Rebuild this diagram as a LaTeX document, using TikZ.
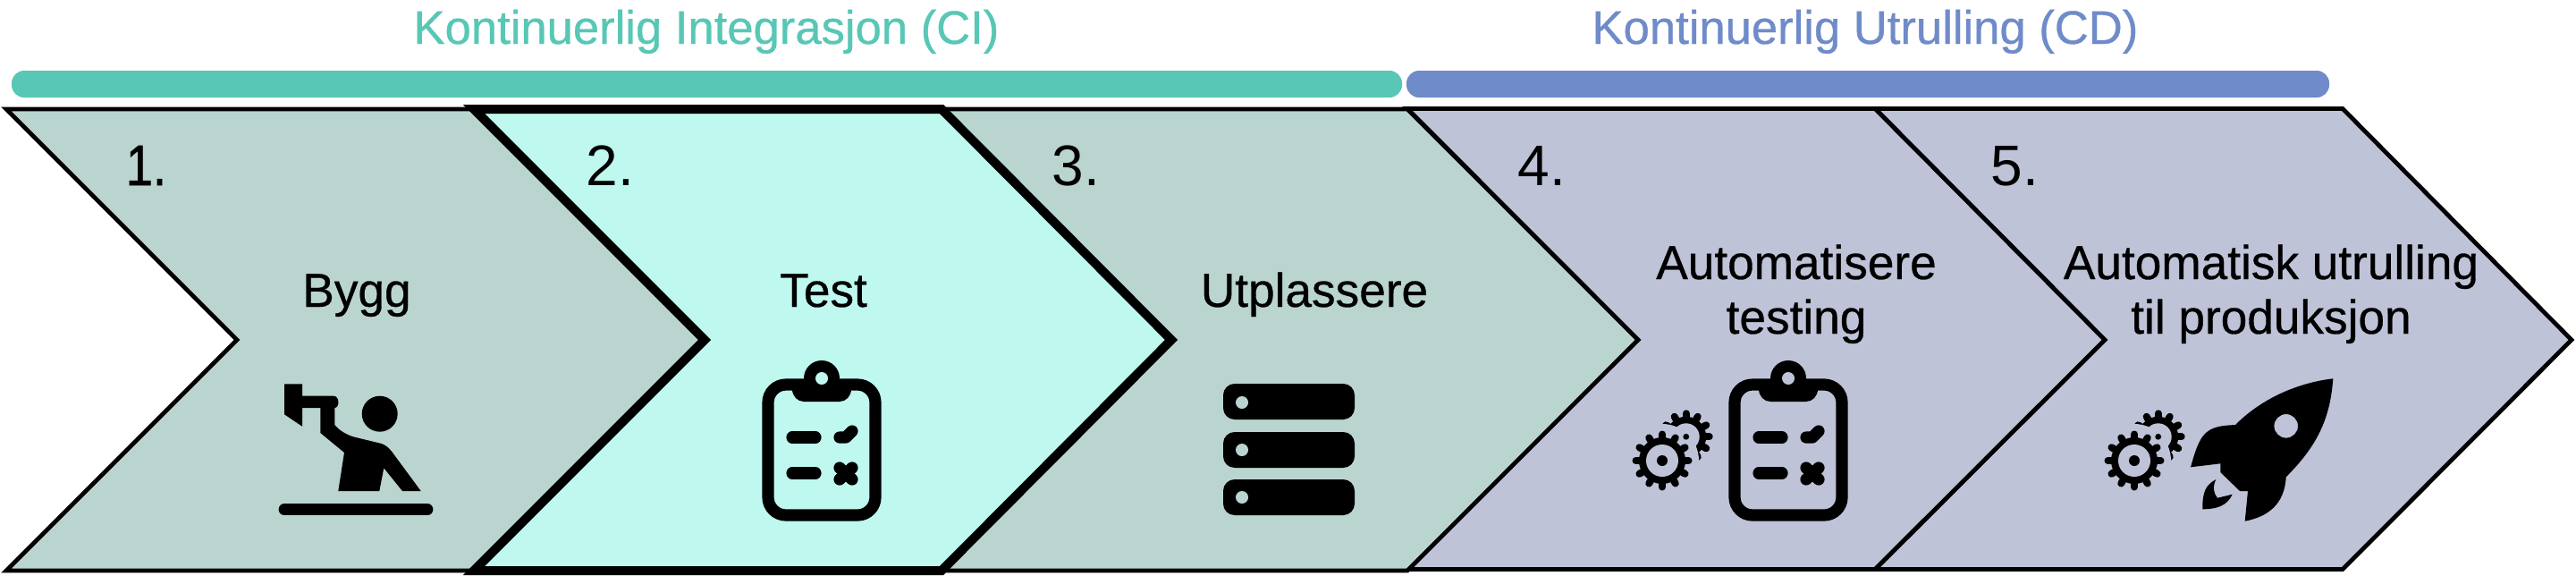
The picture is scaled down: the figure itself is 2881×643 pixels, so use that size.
\documentclass[tikz,border=0pt]{standalone}
\usepackage{fontspec}
\setmainfont{Liberation Sans}
\newfontfamily\fatnum[FakeBold=1]{Liberation Sans}
\newfontfamily\medfont[FakeBold=0.6]{Liberation Sans}
\usetikzlibrary{positioning}

\definecolor{citeal}{HTML}{58C7B5}
\definecolor{cdblue}{HTML}{6F8BC9}
\definecolor{cifill}{HTML}{BAD5D0}
\definecolor{testfill}{HTML}{BEF8EF}
\definecolor{cdfill}{HTML}{BEC3D8}

\tikzset{
  chevron/.style={draw=black, line width=1.2pt, miter limit=10},
  chevronthick/.style={draw=black, line width=2.5pt, miter limit=10},
  bar/.style={rounded corners=3.5pt},
  title/.style={anchor=base, font=\fontsize{13.15}{15}\medfont},
  numlabel/.style={anchor=base west, inner sep=0pt, font=\fontsize{16}{18}\selectfont},
  steplabel/.style={anchor=base, align=center, font=\fontsize{13.3}{15.25}\medfont},
  clipline/.style={line width=3.3pt, line cap=round, line join=round},
  clipboard/.pic={
    \draw[line width=3.3pt, rounded corners=5pt] (-60,-73) rectangle (60,73);
    \fill (0,-80) circle (20);
    \fill (-33,-73) -- (33,-73) -- (33,-68) .. controls (33,-60) and (27,-54) .. (20,-54) -- (-20,-54) .. controls (-27,-54) and (-33,-60) .. (-33,-68) -- cycle;
    \fill[#1] (0,-80) circle (7);
    \draw[clipline] (-33,-14) -- (-7,-14);
    \draw[clipline] (-33,26) -- (-7,26);
    \draw[clipline] (20,-14) -- (27,-14) -- (34,-21);
    \draw[clipline] (20,20) -- (34,33);
    \draw[clipline] (34,20) -- (20,33);
  },
  gearteeth/.pic={
    \fill (0,0) circle (#1);
    \foreach \a in {0,30,...,330}
      \draw[line width=2pt, line cap=round] (\a:#1) -- (\a:{#1+3.5});
  },
  gears/.pic={
    % small gear, cut away round the big one
    \begin{scope}[shift={(26.7,-26.7)}]
      \pic {gearteeth=22.5};
      \fill[cdfill] (0,0) circle (15);
    \end{scope}
    \fill[cdfill] (0,0) circle (41);
    \fill (26.7,-26.7) circle (3.4);
    \pic {gearteeth=26};
    \fill[cdfill] (0,0) circle (18);
    \fill (0,0) circle (6);
  },
}

\begin{document}
\begin{tikzpicture}[x=0.25pt, y=-0.25pt]
  \useasboundingbox (0,0) rectangle (2881,643);

  % headings and bars
  \node[title, text=citeal] (ci) at (790,49) {Kontinuerlig Integrasjon (CI)};
  \node[title, text=cdblue] (cd) at (2086,49) {Kontinuerlig Utrulling (CD)};
  \fill[bar, citeal] (13,79) rectangle (1568,109);
  \fill[bar, cdblue] (1573,79) rectangle (2605,109);

  % chevrons
  \draw[chevron, fill=cdfill] (2097,121.5) -- (2620,121.5) -- (2876,380) -- (2620,636.5) -- (2097,636.5) -- (2354,380) -- cycle;
  \draw[chevron, fill=cdfill] (1574,121.5) -- (2097,121.5) -- (2354,380) -- (2097,636.5) -- (1574,636.5) -- (1832,380) -- cycle;
  \draw[chevron, fill=cifill] (1053,122) -- (1574,122) -- (1832,380) -- (1574,638) -- (1053,638) -- (1310,380) -- cycle;
  \draw[chevron, fill=cifill] (7,122) -- (530,122) -- (788,380) -- (530,638) -- (7,638) -- (265,380) -- cycle;
  \draw[chevronthick, fill=testfill] (530,122) -- (1053,122) -- (1310,380) -- (1053,638) -- (530,638) -- (788,380) -- cycle;

  % numbers
  \node[numlabel, font=\fontsize{16}{18}\fatnum] (n1) at (140,207) {\scalebox{0.85}[1]{1.}};
  \node[numlabel] (n2) at (655,207) {2.};
  \node[numlabel] (n3) at (1176,207) {3.};
  \node[numlabel] (n4) at (1697,207) {4.};
  \node[numlabel] (n5) at (2226,207) {5.};

  % step names
  \node[steplabel] (bygg) at (399,343) {Bygg};
  \node[steplabel] (test) at (921,343) {Test};
  \node[steplabel] (utpl) at (1470,343) {Utplassere};
  \node[steplabel] (auto) at (2009,373) {Automatisere\\testing};
  \node[steplabel] (prod) at (2540,373) {Automatisk utrulling\\til produksjon};

  % person with hammer
  \fill (424.7,462.7) circle (20);
  \draw[line width=3.2pt, line cap=round] (318,569.7) -- (478,569.7);
  \fill (318,429.3) -- (338,429.3) -- (338,442.7) -- (373,442.7) .. controls (380,442.7) and (380,456) .. (374.3,456)
    -- (374.3,475) .. controls (380,482) and (388,486) .. (395,488.3) -- (426.7,496) .. controls (432,498) and (435,501) .. (438.3,505)
    -- (470.7,549) -- (450,549) -- (429.3,523.3) -- (424.3,549) -- (378.3,549) -- (385,506) -- (358.3,484) -- (358.3,456)
    -- (338,456) -- (338,476.7) -- (318,463.3) -- cycle;

  % clipboards
  \pic at (919,503) {clipboard=testfill};
  \pic at (2000,503) {clipboard=cdfill};

  % server stack
  \fill[rounded corners=3.2pt] (1368,429) rectangle (1515,469);
  \fill[rounded corners=3.2pt] (1368,483) rectangle (1515,523);
  \fill[rounded corners=3.2pt] (1368,536) rectangle (1515,576);
  \fill[cifill] (1389,450) circle (7);
  \fill[cifill] (1389,503) circle (7);
  \fill[cifill] (1389,556) circle (7);

  % gears
  \pic at (1859,515) {gears};
  \pic at (2387,515) {gears};

  % rocket
  \fill[even odd rule] (2609.3,423.3) .. controls (2570,428) and (2530,445) .. (2500,475)
    .. controls (2480,476) and (2470,478) .. (2462,490) .. controls (2456,500) and (2453,512) .. (2450,522.3)
    -- (2483.3,518.3) -- (2483.3,528) -- (2505,549) -- (2514,549) -- (2510.7,582.7)
    .. controls (2535,578) and (2555,565) .. (2556.7,533.3)
    .. controls (2590,500) and (2606,470) .. (2609.3,423.3) -- cycle
    (2556.7,476.3) circle (13.3);
  \fill (2463.3,569.3) .. controls (2463,550) and (2467,542) .. (2478.3,536)
    .. controls (2474,545) and (2476,552) .. (2480,556.7) -- (2496.7,552.7)
    .. controls (2491,565) and (2480,569.3) .. (2463.3,569.3) -- cycle;
\end{tikzpicture}
\end{document}
